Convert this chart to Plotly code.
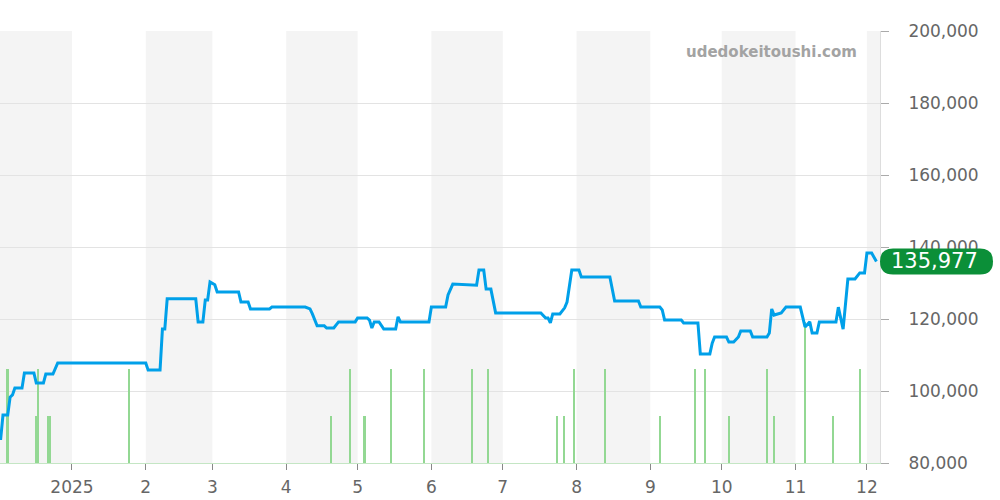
import plotly.graph_objects as go
import pandas as pd

# ---- data ----
price_dates = [
    "2024-12-02", "2024-12-03", "2024-12-05", "2024-12-06", "2024-12-07", "2024-12-08",
    "2024-12-11", "2024-12-12", "2024-12-16", "2024-12-17", "2024-12-20", "2024-12-21",
    "2024-12-24", "2024-12-26", "2025-02-01", "2025-02-02", "2025-02-07", "2025-02-08",
    "2025-02-09", "2025-02-10", "2025-02-22", "2025-02-23", "2025-02-25", "2025-02-26",
    "2025-02-27", "2025-02-28", "2025-03-02", "2025-03-03", "2025-03-12", "2025-03-13",
    "2025-03-16", "2025-03-17", "2025-03-25", "2025-03-26", "2025-04-09", "2025-04-11",
    "2025-04-12", "2025-04-14", "2025-04-17", "2025-04-18", "2025-04-21", "2025-04-23",
    "2025-04-30", "2025-05-01", "2025-05-05", "2025-05-06", "2025-05-07", "2025-05-08",
    "2025-05-10", "2025-05-12", "2025-05-17", "2025-05-18", "2025-05-19", "2025-05-31",
    "2025-06-01", "2025-06-07", "2025-06-08", "2025-06-10", "2025-06-20", "2025-06-21",
    "2025-06-23", "2025-06-24", "2025-06-26", "2025-06-28", "2025-07-17", "2025-07-19",
    "2025-07-20", "2025-07-21", "2025-07-22", "2025-07-25", "2025-07-27", "2025-07-28",
    "2025-07-30", "2025-08-02", "2025-08-03", "2025-08-15", "2025-08-17", "2025-08-27",
    "2025-08-28", "2025-09-05", "2025-09-06", "2025-09-07", "2025-09-14", "2025-09-15",
    "2025-09-21", "2025-09-22", "2025-09-26", "2025-09-27", "2025-09-28", "2025-10-03",
    "2025-10-04", "2025-10-06", "2025-10-08", "2025-10-09", "2025-10-13", "2025-10-14",
    "2025-10-20", "2025-10-21", "2025-10-22", "2025-10-23", "2025-10-26", "2025-10-28",
    "2025-11-03", "2025-11-05", "2025-11-07", "2025-11-08", "2025-11-10", "2025-11-11",
    "2025-11-18", "2025-11-19", "2025-11-21", "2025-11-23", "2025-11-26", "2025-11-28",
    "2025-11-30", "2025-12-01", "2025-12-03", "2025-12-05",
]
price_values = [
    86400, 93300, 93300, 98300, 98900, 100800,
    100800, 105000, 105000, 102200, 102200, 104700,
    104700, 107800, 107800, 105800, 105800, 117200,
    117200, 125600, 125600, 119200, 119200, 125300,
    125300, 130300, 129500, 127500, 127500, 124700,
    124700, 122800, 122800, 123300, 123300, 122800,
    121400, 118100, 118100, 117500, 117500, 119200,
    119200, 120300, 120300, 119700, 117500, 119200,
    119200, 117200, 117200, 120600, 119200, 119200,
    123300, 123300, 126700, 129700, 129400, 133600,
    133600, 128300, 128300, 121700, 121700, 120300,
    120300, 118900, 121400, 121400, 123100, 124700,
    133600, 133600, 131700, 131700, 125000, 125000,
    123300, 123300, 122500, 119700, 119700, 118900,
    118900, 110300, 110300, 113300, 115000, 115000,
    113600, 113600, 115000, 116700, 116700, 115000,
    115000, 116100, 122800, 121100, 121700, 123300,
    123300, 117800, 119200, 116100, 116100, 119200,
    119200, 123300, 117200, 131100, 131100, 132800,
    132800, 138300, 138300, 135977,
]

volume_dates = [
    "2024-12-05", "2024-12-17", "2024-12-18", "2024-12-22", "2024-12-23", "2025-01-25",
    "2025-04-20", "2025-04-28", "2025-05-04", "2025-05-15", "2025-05-29", "2025-06-18",
    "2025-06-25", "2025-07-24", "2025-07-27", "2025-07-31", "2025-08-13", "2025-09-05",
    "2025-09-20", "2025-09-24", "2025-10-04", "2025-10-20", "2025-10-23", "2025-11-05",
    "2025-11-17", "2025-11-28",
]
volume_values = [
    2, 1, 2, 1, 1, 2,
    1, 2, 1, 2, 2, 2,
    2, 1, 1, 2, 2, 1,
    2, 2, 1, 2, 1, 3,
    1, 2,
]

month_ticks = ["2025-01-01", "2025-02-01", "2025-03-01", "2025-04-01", "2025-05-01",
               "2025-06-01", "2025-07-01", "2025-08-01", "2025-09-01", "2025-10-01",
               "2025-11-01", "2025-12-01"]
month_labels = ["2025", "2", "3", "4", "5", "6", "7", "8", "9", "10", "11", "12"]
shaded_months = ["2024-12-01", "2025-02-01", "2025-04-01", "2025-06-01",
                 "2025-08-01", "2025-10-01", "2025-12-01"]

price_ticks = [80000, 100000, 120000, 140000, 160000, 180000, 200000]
last_price = price_values[-1]

x_start = "2024-12-01 18:00"
x_end = "2025-12-06 12:00"

# ---- figure ----
fig = go.Figure()

fig.add_trace(go.Bar(
    x=volume_dates, y=volume_values, yaxis="y",
    marker=dict(color="#93d893", line=dict(width=0)),
    width=0.65 * 86400000, showlegend=False, hoverinfo="skip",
))

fig.add_trace(go.Scatter(
    x=price_dates, y=price_values, yaxis="y2", mode="lines",
    line=dict(color="#00a0e9", width=3), showlegend=False,
))

shapes = []
for m in shaded_months:
    s = pd.Timestamp(m)
    e = s + pd.offsets.MonthBegin(1)
    s = max(s, pd.Timestamp(x_start))
    e = min(e, pd.Timestamp(x_end))
    shapes.append(dict(type="rect", xref="x", yref="paper", x0=s, x1=e, y0=0, y1=1,
                       fillcolor="#f4f4f4", line=dict(width=0), layer="below"))

# rounded badge behind current price
r = 13
w = 113
badge_path = (f"M {r},{-r} L {w - r},{-r} Q {w},{-r} {w},0 Q {w},{r} {w - r},{r} "
              f"L {r},{r} Q 0,{r} 0,0 Q 0,{-r} {r},{-r} Z")
shapes.append(dict(type="path", xref="paper", yref="y2", xsizemode="pixel", ysizemode="pixel",
                   xanchor=1, yanchor=last_price, path=badge_path,
                   fillcolor="#0b8f38", line=dict(width=0), layer="above"))

fig.update_layout(
    width=1000, height=500,
    margin=dict(l=0, r=120, t=31, b=37),
    paper_bgcolor="white", plot_bgcolor="white",
    font=dict(family="DejaVu Sans", color="#666666"),
    bargap=0,
    shapes=shapes,
    xaxis=dict(
        type="date", range=[x_start, x_end],
        tickvals=month_ticks, ticktext=month_labels,
        ticks="outside", ticklen=6, tickcolor="#888888",
        tickfont=dict(size=17, color="#666666"),
        ticklabelstandoff=3,
        showgrid=False, zeroline=False,
        showline=True, linecolor="#c4e6c4", linewidth=1,
    ),
    yaxis=dict(range=[0, 9.2], visible=False, fixedrange=True),
    yaxis2=dict(
        overlaying="y", side="right", range=[80000, 200000],
        tickvals=price_ticks, tickformat=",d",
        ticks="outside", ticklen=8, tickcolor="#aaaaaa",
        tickfont=dict(size=17, color="#666666"),
        ticklabelstandoff=16,
        showgrid=True, gridcolor="#e3e3e3", gridwidth=1,
        zeroline=False, showline=True, linecolor="#dddddd",
    ),
    annotations=[
        dict(xref="paper", yref="paper", x=0.976, y=0.951, xanchor="right", yanchor="middle",
             text="<b>udedokeitoushi.com</b>", showarrow=False,
             font=dict(size=15, color="#a3a3a3", family="DejaVu Sans")),
        dict(xref="paper", yref="y2", x=1, y=last_price, xanchor="center", yanchor="middle",
             xshift=54, text=f"{last_price:,}", showarrow=False,
             font=dict(size=21, color="white", family="DejaVu Sans")),
    ],
)

fig.write_html("out.html", config={"displayModeBar": False},
               post_script="document.body.style.margin='0';")
